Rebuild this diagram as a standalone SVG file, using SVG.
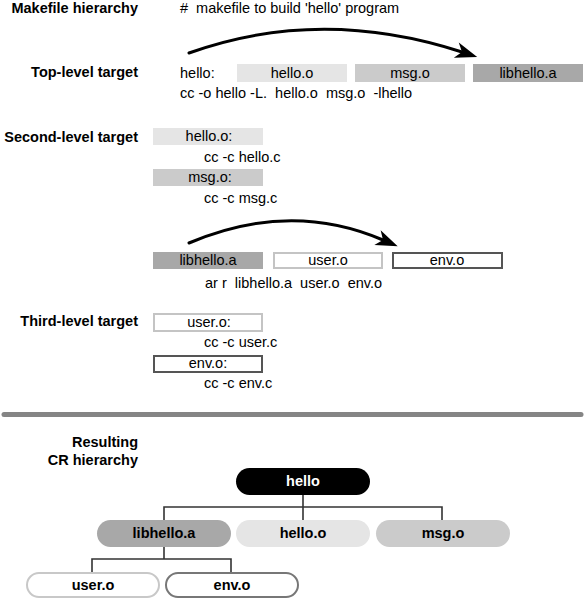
<svg xmlns="http://www.w3.org/2000/svg" width="585" height="600" viewBox="0 0 585 600">
<style>
text{font-family:"Liberation Sans",Arial,Helvetica,sans-serif;font-size:14.5px;fill:#000;white-space:pre}
.b{font-weight:bold}
.e{text-anchor:end}
.m{text-anchor:middle}
.w{fill:#fff}
.f1{fill:#e5e5e5}
.f2{fill:#cbcbcb}
.f3{fill:#a8a8a8}
.ol{fill:#fff;stroke:#c4c4c4;stroke-width:2}
.od{fill:#fff;stroke:#555;stroke-width:2}
.pl{fill:#fff;stroke:#c8c8c8;stroke-width:2}
.pd{fill:#fff;stroke:#777;stroke-width:2}
.arc{fill:none;stroke:#000;stroke-width:3;stroke-linecap:round}
.con{fill:none;stroke:#333;stroke-width:1.6}
</style>
<defs>
<marker id="ah" markerUnits="userSpaceOnUse" markerWidth="24" markerHeight="18" refX="6" refY="8" orient="auto" overflow="visible">
<path d="M0,0 L22,8 L0,16 L6,8 Z" fill="#000"/>
</marker>
</defs>

<!-- headings -->
<g id="labels">
<text class="b e" x="138" y="13">Makefile hierarchy</text>
<text x="180" y="13" xml:space="preserve">#  makefile to build 'hello' program</text>
<text class="b e" x="138" y="77">Top-level target</text>
<text class="b e" x="138" y="142">Second-level target</text>
<text class="b e" x="138" y="326">Third-level target</text>
<text class="b e" x="138" y="447">Resulting</text>
<text class="b e" x="138" y="465">CR hierarchy</text>
</g>

<!-- top-level target -->
<g id="top-target">
<text x="180" y="78">hello:</text>
<rect class="f1" x="237" y="64" width="110" height="18"/>
<text class="m" x="292" y="78">hello.o</text>
<rect class="f2" x="355" y="64" width="110" height="18"/>
<text class="m" x="410" y="78">msg.o</text>
<rect class="f3" x="473" y="64" width="110" height="18"/>
<text class="m" x="528" y="78">libhello.a</text>
<text x="180" y="98" xml:space="preserve">cc -o hello -L.  hello.o  msg.o  -lhello</text>
</g>

<!-- second-level targets -->
<g id="second-hello">
<rect class="f1" x="153" y="128" width="110" height="17"/>
<text class="m" x="209" y="141">hello.o:</text>
<text x="204" y="162">cc -c hello.c</text>
</g>
<g id="second-msg">
<rect class="f2" x="153" y="169" width="110" height="17"/>
<text class="m" x="210" y="182">msg.o:</text>
<text x="204" y="203">cc -c msg.c</text>
</g>
<g id="second-lib">
<rect class="f3" x="153" y="252" width="110" height="17"/>
<text class="m" x="208" y="265">libhello.a</text>
<rect class="ol" x="274" y="253" width="108" height="15"/>
<text class="m" x="328" y="265">user.o</text>
<rect class="od" x="393" y="253" width="109" height="15"/>
<text class="m" x="447" y="265">env.o</text>
<text x="205" y="288" xml:space="preserve">ar r  libhello.a  user.o  env.o</text>
</g>

<!-- third-level targets -->
<g id="third-user">
<rect class="ol" x="154" y="314" width="108" height="17"/>
<text class="m" x="209" y="327">user.o:</text>
<text x="204" y="347">cc -c user.c</text>
</g>
<g id="third-env">
<rect class="od" x="154" y="356" width="108" height="16"/>
<text class="m" x="208" y="368">env.o:</text>
<text x="204" y="388">cc -c env.c</text>
</g>

<!-- separator -->
<line x1="4" y1="414.5" x2="581" y2="414.5" stroke="#858585" stroke-width="5" stroke-linecap="round"/>

<!-- connectors -->
<g id="connectors">
<path class="arc" d="M189,53 Q320,6 462,52" marker-end="url(#ah)"/>
<path class="arc" d="M189,243 Q290,200 383,240" marker-end="url(#ah)"/>
<path class="con" d="M303,495 V520"/>
<path class="con" d="M164,520 V507 H442 V520"/>
<path class="con" d="M164,547 V559"/>
<path class="con" d="M92,572 V559 H231 V572"/>
</g>

<!-- CR hierarchy nodes -->
<g id="cr-hello">
<rect x="236" y="468" width="134" height="27" rx="13.5" fill="#000"/>
<text class="b m w" x="303" y="486">hello</text>
</g>
<g id="cr-libhello">
<rect class="f3" x="97" y="520" width="134" height="27" rx="13.5"/>
<text class="b m" x="164" y="538">libhello.a</text>
</g>
<g id="cr-hello-o">
<rect class="f1" x="236" y="520" width="134" height="27" rx="13.5"/>
<text class="b m" x="303" y="538">hello.o</text>
</g>
<g id="cr-msg">
<rect class="f2" x="376" y="520" width="134" height="27" rx="13.5"/>
<text class="b m" x="443" y="538">msg.o</text>
</g>
<g id="cr-user">
<rect class="pl" x="27" y="573" width="132" height="24" rx="12"/>
<text class="b m" x="93" y="590">user.o</text>
</g>
<g id="cr-env">
<rect class="pd" x="166" y="573" width="132" height="24" rx="12"/>
<text class="b m" x="232" y="590">env.o</text>
</g>
</svg>
